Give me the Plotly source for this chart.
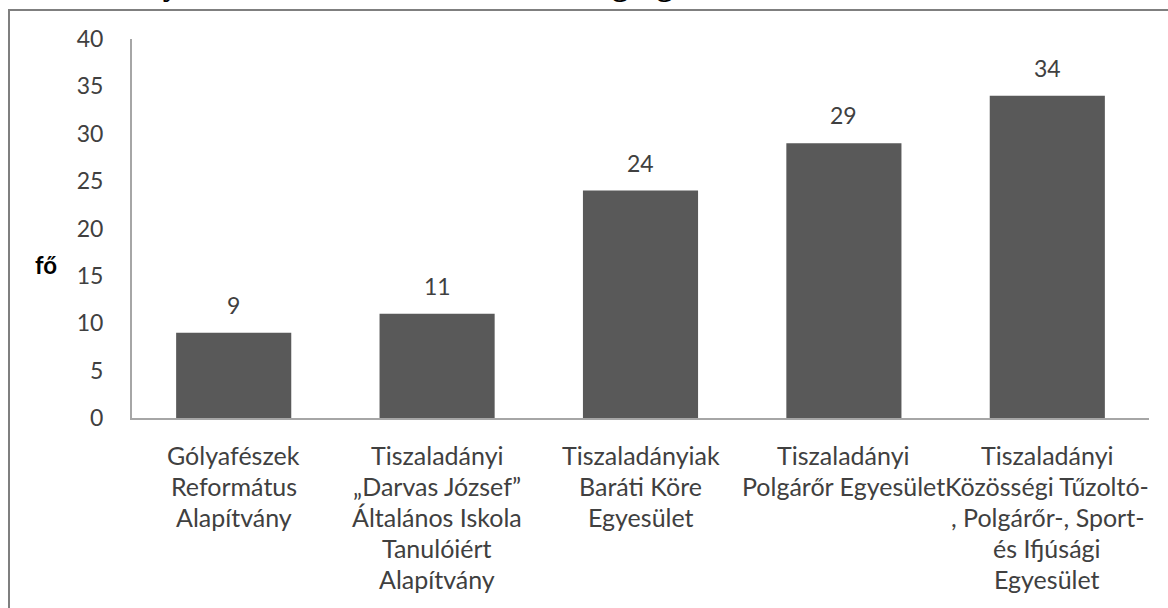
import plotly.graph_objects as go

categories = [
    "Gólyafészek\nReformátus\nAlapítvány",
    "Tiszaladányi\n„Darvas József”\nÁltalános Iskola\nTanulóiért\nAlapítvány",
    "Tiszaladányiak\nBaráti Köre\nEgyesület",
    "Tiszaladányi\nPolgárőr Egyesület",
    "Tiszaladányi\nKözösségi Tűzoltó-\n, Polgárőr-, Sport-\nés Ifjúsági\nEgyesület",
]
values = [9, 11, 24, 29, 34]
y_ticks = [0, 5, 10, 15, 20, 25, 30, 35, 40]
y_title = "fő"
chart_title = "5. ábra: Helyben működő civil szervezetek tagsága"

W, H = 1168, 608
L, R, T, B = 132, 19, 39, 190
pw, ph = W - L - R, H - T - B

FONT = "Lato"
TXT = "#404040"

fig = go.Figure()
fig.add_trace(go.Bar(
    x=list(range(len(categories))),
    y=values,
    marker=dict(color="#595959", line=dict(width=0)),
    width=0.566,
    hoverinfo="skip",
))

ann = []
# data labels
for i, v in enumerate(values):
    ann.append(dict(x=i, y=v, xref="x", yref="y", text=str(v), showarrow=False,
                    yanchor="middle", yshift=28, font=dict(family=FONT, size=23, color=TXT)))
# category labels, one line per annotation
for i, c in enumerate(categories):
    for j, line in enumerate(c.split("\n")):
        ann.append(dict(x=i, y=0, xref="x", yref="paper", text=line, showarrow=False,
                        yanchor="middle", yshift=-(37 + 31 * j),
                        font=dict(family=FONT, size=25, color=TXT)))
# y title
ann.append(dict(x=(46 - L) / pw, y=(H - B - 264) / ph, xref="paper", yref="paper",
                text="<b>" + y_title + "</b>", showarrow=False, xanchor="center", yanchor="middle",
                font=dict(family=FONT, size=24, color="#000000")))
# clipped title at top
ann.append(dict(x=(-2 - L) / pw, y=(H - B - 4) / ph, xref="paper", yref="paper",
                text="<b>" + chart_title + "</b>", showarrow=False, xanchor="left", yanchor="bottom",
                font=dict(family="Liberation Serif", size=32, color="#000000")))

shapes = [
    dict(type="rect", xref="paper", yref="paper",
         x0=(9 - L) / pw, x1=(1200 - L) / pw, y0=(H - B - 700) / ph, y1=(H - B - 10) / ph,
         line=dict(color="#7f7f7f", width=2), fillcolor="rgba(0,0,0,0)", layer="below"),
]

fig.update_layout(
    width=W, height=H,
    margin=dict(l=L, r=R, t=T, b=B),
    paper_bgcolor="white", plot_bgcolor="white",
    showlegend=False,
    annotations=ann,
    shapes=shapes,
    xaxis=dict(range=[-0.5, len(categories) - 0.5], showticklabels=False, showgrid=False,
               zeroline=False, showline=True, linecolor="#a6a6a6", linewidth=2, ticks=""),
    yaxis=dict(range=[0, 40], tickvals=y_ticks, showgrid=False, zeroline=False,
               showline=True, linecolor="#a6a6a6", linewidth=2, ticks="",
               ticklabelstandoff=22,
               tickfont=dict(family=FONT, size=23, color=TXT)),
    font=dict(family=FONT, color=TXT),
)

fig.write_html("out.html", config={"displayModeBar": False},
               post_script="document.body.style.margin='0px';")
